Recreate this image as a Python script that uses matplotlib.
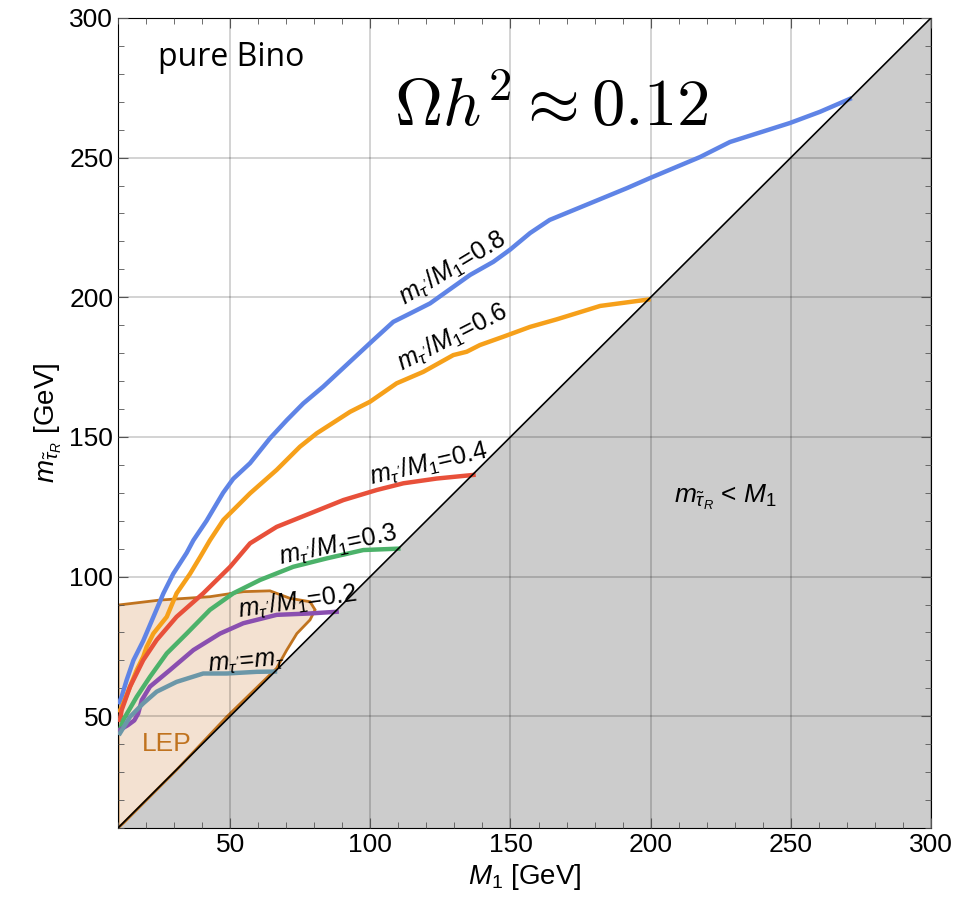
import numpy as np
import matplotlib.pyplot as plt
from matplotlib.ticker import MultipleLocator

plt.rcParams['font.family'] = ['Liberation Sans', 'DejaVu Sans']
plt.rcParams['mathtext.fontset'] = 'custom'
plt.rcParams['mathtext.rm'] = 'Liberation Sans'
plt.rcParams['mathtext.it'] = 'Liberation Sans:italic'
plt.rcParams['mathtext.bf'] = 'Liberation Sans:bold'

# --- relic density contours, m_stau_R vs M1 ---
blue_x = [10.5, 11.3, 13.1, 15.5, 19.0, 22.6, 26.2, 29.7, 34.5, 36.9, 41.6, 47.5, 51.1, 57.1,
          64.2, 70.2, 76.1, 83.2, 93.9, 101.1, 108.2, 114.2, 121.3, 135.6, 143.9, 149.8, 157.0,
          164.0, 191.6, 199.8, 217.6, 228.3, 249.7, 260.4, 271.0]
blue_y = [55.0, 57.0, 63.0, 70.0, 77.0, 85.5, 94.0, 101.0, 108.5, 113.0, 120.0, 130.0, 135.0, 140.6,
          149.5, 156.0, 162.0, 168.0, 178.0, 184.7, 191.2, 194.2, 197.8, 208.0, 212.7, 217.0, 223.0,
          227.7, 239.1, 242.7, 250.2, 255.6, 262.4, 266.4, 271.0]

orange_x = [10.7, 11.9, 14.3, 16.7, 19.0, 20.2, 22.6, 27.4, 30.9, 35.7, 39.3, 42.8, 47.6, 57.1,
            66.6, 74.9, 80.9, 92.8, 99.9, 109.4, 118.9, 129.6, 134.4, 139.1, 147.5, 157.0, 166.5,
            182.0, 199.2]
orange_y = [52.0, 54.6, 60.6, 66.6, 71.3, 74.8, 79.6, 85.6, 94.0, 101.0, 107.0, 113.0, 120.3, 129.8,
            138.2, 146.5, 151.3, 159.0, 162.6, 169.2, 173.3, 179.3, 180.5, 182.9, 185.9, 189.4, 192.1,
            196.9, 199.2]

red_x = [10.7, 11.3, 14.3, 19.0, 23.8, 30.9, 40.4, 50.0, 57.1, 66.6, 78.5, 90.4, 102.3, 111.8,
         123.7, 136.8]
red_y = [48.7, 52.2, 60.6, 70.1, 77.3, 85.6, 94.0, 103.5, 111.9, 117.8, 122.6, 127.4, 131.0, 133.4,
         135.1, 136.4]

green_x = [10.7, 11.9, 16.7, 21.4, 27.4, 34.5, 42.8, 51.1, 60.7, 72.5, 84.4, 97.5, 110.0]
green_y = [45.1, 48.7, 57.0, 64.1, 72.5, 79.6, 88.1, 94.0, 98.8, 103.5, 106.5, 109.5, 110.0]

purple_x = [10.7, 13.5, 15.8, 17.2, 18.5, 21.4, 28.6, 36.9, 46.4, 54.7, 66.6, 78.5, 88.0]
purple_y = [45.1, 46.8, 48.5, 51.0, 55.8, 60.6, 66.6, 73.7, 79.6, 83.3, 86.3, 86.8, 87.4]

slate_x = [10.7, 14.3, 19.0, 23.8, 30.9, 40.4, 48.8, 59.5, 66.0]
slate_y = [43.9, 49.8, 54.6, 58.8, 62.3, 65.3, 65.3, 65.9, 66.0]

# LEP excluded region outline
lep_x = [10, 10, 25.0, 42.8, 54.7, 64.2, 71.4, 78.5, 80.3, 78.5, 73.8, 70.2, 66.6, 48.8, 30.9, 11.9, 10]
lep_y = [10, 89.8, 91.6, 92.8, 94.6, 94.9, 92.2, 91.0, 88.1, 84.5, 79.6, 73.7, 67.2, 49.8, 30.8, 11.7, 10]

fig = plt.figure(figsize=(9.57, 9.17), dpi=100)
ax = fig.add_axes([0.1233, 0.0971, 0.8495, 0.8833])

# m_stau < M1 region
diag = np.array([10, 300])
ax.fill_between(diag, 10, diag, color='#cccccc', zorder=1, lw=0)
ax.plot(diag, diag, color='k', lw=1.2, zorder=6)

ax.fill(lep_x, lep_y, facecolor='#f3e1d1', edgecolor='#c0731f', lw=2, zorder=2)

ax.plot(blue_x, blue_y, color='#5f84e6', lw=3.2, zorder=4)
ax.plot(orange_x, orange_y, color='#f6a01a', lw=3.2, zorder=4)
ax.plot(red_x, red_y, color='#e8503a', lw=3.2, zorder=4)
ax.plot(green_x, green_y, color='#4cb26a', lw=3.2, zorder=4)
ax.plot(purple_x, purple_y, color='#8a4fb0', lw=3.2, zorder=4)
ax.plot(slate_x, slate_y, color='#6b97a8', lw=3.2, zorder=4)

lab = dict(fontsize=18, ha='center', va='center', zorder=7)
ax.text(129.2, 210.5, r"$m_{\tau'}/M_1$=0.8", rotation=31, **lab)
ax.text(129.2, 185.4, r"$m_{\tau'}/M_1$=0.6", rotation=27, **lab)
ax.text(121.0, 140.3, r"$m_{\tau'}/M_1$=0.4", rotation=13, **lab)
ax.text(88.5, 111.3, r"$m_{\tau'}/M_1$=0.3", rotation=12, **lab)
ax.text(73.9, 90.9, r"$m_{\tau'}/M_1$=0.2", rotation=8, **lab)
ax.text(55.7, 69.1, r"$m_{\tau'}$=$m_\tau$", rotation=5, **lab)
ax.text(27.5, 40.1, "LEP", color='#c0731f', fontsize=19, ha='center', va='center', zorder=7)
ax.text(226.6, 128.5, r"$m_{\tilde{\tau}_R}$ < $M_1$", fontsize=19, ha='center', va='center', zorder=7)
ax.text(24.3, 286, "pure Bino", fontsize=23, ha='left', va='center', family=['Open Sans', 'DejaVu Sans'])
ax.text(164.5, 267.5, r"$\Omega h^2 \approx 0.12$", fontsize=48, ha='center', va='center',
        math_fontfamily='cm')

ax.set_xlim(10, 300)
ax.set_ylim(10, 300)
ax.xaxis.set_major_locator(MultipleLocator(50))
ax.yaxis.set_major_locator(MultipleLocator(50))
ax.xaxis.set_minor_locator(MultipleLocator(10))
ax.yaxis.set_minor_locator(MultipleLocator(10))
ax.tick_params(which='both', direction='in', top=True, right=True, labelsize=19, colors='k')
ax.tick_params(which='major', length=7, color='#555555')
ax.tick_params(which='minor', length=4, color='#555555')
ax.grid(True, which='major', color='k', alpha=0.2, lw=1.2, zorder=5)
ax.set_axisbelow(False)
ax.set_xlabel(r"$M_1$ [GeV]", fontsize=20)
ax.set_ylabel(r"$m_{\tilde{\tau}_R}$ [GeV]", fontsize=20)

fig.savefig('out.png', dpi=100)
plt.close(fig)
